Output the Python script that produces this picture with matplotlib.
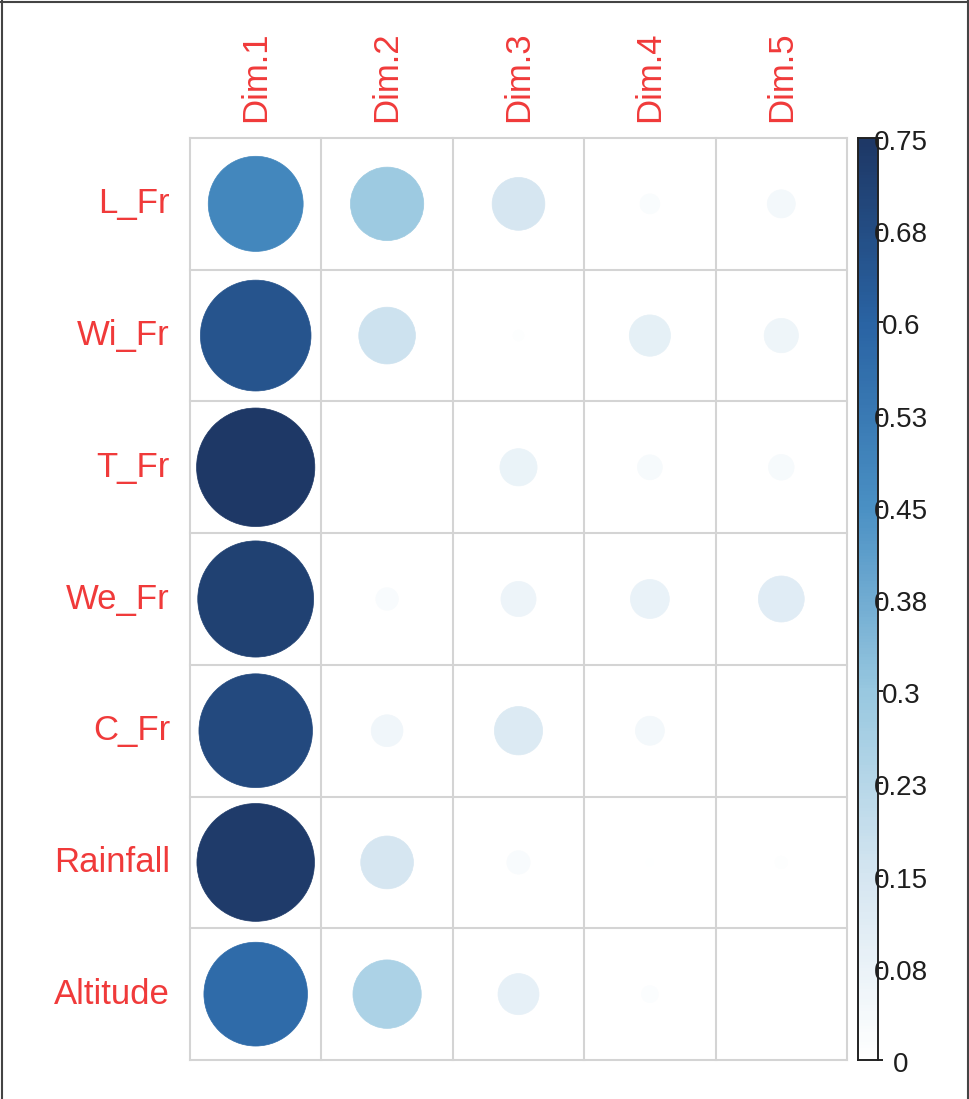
import matplotlib
matplotlib.use("Agg")
import matplotlib.pyplot as plt
from matplotlib.colors import LinearSegmentedColormap, Normalize
from matplotlib.patches import Circle
from matplotlib.lines import Line2D
import numpy as np

plt.rcParams["font.family"] = ["Liberation Sans", "DejaVu Sans"]

# squared cosines of the variables on the first five dimensions
variables = ["L_Fr", "Wi_Fr", "T_Fr", "We_Fr", "C_Fr", "Rainfall", "Altitude"]
dims = ["Dim.1", "Dim.2", "Dim.3", "Dim.4", "Dim.5"]

l_fr = [0.483, 0.288, 0.149, 0.021, 0.042]
wi_fr = [0.656, 0.172, 0.006, 0.091, 0.063]
t_fr = [0.750, 0.001, 0.074, 0.033, 0.035]
we_fr = [0.720, 0.027, 0.066, 0.081, 0.113]
c_fr = [0.691, 0.054, 0.125, 0.045, 0.001]
rainfall = [0.741, 0.149, 0.029, 0.003, 0.008]
altitude = [0.575, 0.250, 0.090, 0.015, 0.001]

cbar_ticks = [0, 0.075, 0.15, 0.225, 0.3, 0.375, 0.45, 0.525, 0.6, 0.675, 0.75]
cbar_labels = ["0", "0.08", "0.15", "0.23", "0.3", "0.38", "0.45", "0.53",
               "0.6", "0.68", "0.75"]

cos2 = np.array([l_fr, wi_fr, t_fr, we_fr, c_fr, rainfall, altitude])
vmin, vmax = 0.0, 0.75

cmap = LinearSegmentedColormap.from_list(
    "blues", ["#FFFFFF", "#D5E6F1", "#98C8E0", "#4A90C4", "#2A64A4", "#1E3866"])
norm = Normalize(vmin, vmax)

W, H = 969, 1099
fig = plt.figure(figsize=(W / 100, H / 100), dpi=100)

# ---- circle matrix ----
ax = fig.add_axes([190 / W, (H - 1060) / H, 657 / W, 922 / H])
n_rows, n_cols = cos2.shape
ax.set_xlim(0, n_cols)
ax.set_ylim(n_rows, 0)
ax.axis("off")

grid_col = "#D4D4D4"
for i in range(n_cols + 1):
    ax.plot([i, i], [0, n_rows], color=grid_col, lw=1.5, clip_on=False, zorder=1)
for j in range(n_rows + 1):
    ax.plot([0, n_cols], [j, j], color=grid_col, lw=1.5, clip_on=False, zorder=1)

for r in range(n_rows):
    for c in range(n_cols):
        v = cos2[r, c]
        rad = 0.45 * np.sqrt(v / vmax)
        col = cmap(norm(v))
        ax.add_patch(Circle((c + 0.5, r + 0.5), rad, facecolor=col,
                            edgecolor=col, lw=0.5, zorder=2))

red = "#F03A3A"
for r, name in enumerate(variables):
    ax.text(-0.0304, r + 0.5, name, transform=ax.get_yaxis_transform(),
            ha="right", va="center", color=red, fontsize=25)
for c, name in enumerate(dims):
    ax.text(c + 0.5, 1.0174, name, transform=ax.get_xaxis_transform(),
            rotation=90, ha="center", va="bottom", color=red, fontsize=25)

# ---- colour legend ----
cax = fig.add_axes([858 / W, (H - 1060) / H, 20 / W, 922 / H])
grad = np.linspace(vmin, vmax, 300).reshape(-1, 1)
cax.imshow(grad, cmap=cmap, norm=norm, aspect="auto", origin="lower",
           extent=[0, 1, vmin, vmax])
cax.set_xlim(0, 1)
cax.set_ylim(vmin, vmax)
cax.set_xticks([])
cax.yaxis.tick_right()
cax.set_yticks(cbar_ticks)
cax.set_yticklabels([])
cax.tick_params(axis="y", length=3.6, width=1.4, color="#222222")
for s in cax.spines.values():
    s.set_color("#222222")
    s.set_linewidth(1.4)

for t, lab in zip(cbar_ticks, cbar_labels):
    cax.text(2.15, t - 0.004, lab, transform=cax.get_yaxis_transform(),
             ha="center", va="center", fontsize=20, color="#1E1E1E")

# frame around the figure
frame = "#444444"
fig.add_artist(Line2D([1.5 / W, 1.5 / W], [0, 1], color=frame, lw=1.5))
fig.add_artist(Line2D([0, 1], [1 - 1.5 / H, 1 - 1.5 / H], color=frame, lw=1.5))
fig.add_artist(Line2D([1 - 1.5 / W, 1 - 1.5 / W], [0, 1], color=frame, lw=1.5))

fig.savefig("out.png", dpi=100, facecolor="white")
